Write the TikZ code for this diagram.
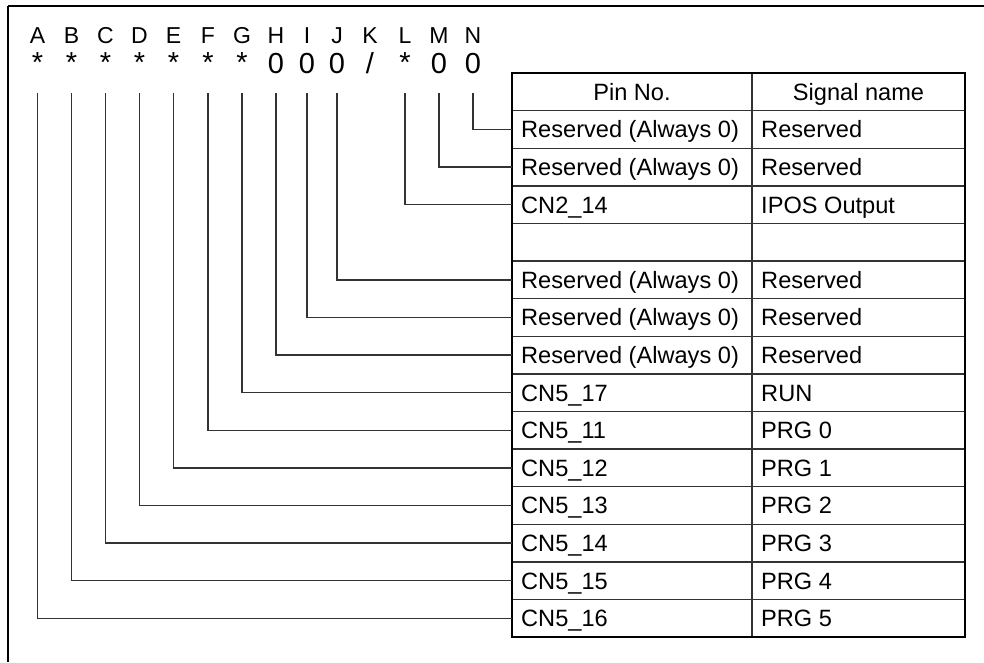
\documentclass[tikz,border=0pt]{standalone}
\usepackage{fontspec}
\setmainfont{Liberation Sans}
\begin{document}
\begin{tikzpicture}[x=1pt,y=-1pt,
  conn/.style={draw=black!80,line width=1.4pt},
  grid/.style={draw=black!80,line width=1.4pt},
  frameline/.style={draw=black,line width=2.6pt},
  letter/.style={inner sep=0pt,anchor=base,font=\fontsize{23}{25}\selectfont},
  digit/.style={inner sep=0pt,anchor=base,font=\fontsize{29}{31}\selectfont},
  cell/.style={inner sep=0pt,anchor=base west,font=\fontsize{23.6}{26}\selectfont},
  head/.style={inner sep=0pt,anchor=base,font=\fontsize{23.6}{26}\selectfont}]
\useasboundingbox (0,0) rectangle (984,662);
% outer frame (top and left edges)
\draw[frameline] (8,6) -- (984,6);
\draw[frameline] (8,6) -- (8,662);
% letters
\foreach \n/\x in {A/37.5,B/71.5,C/105.5,D/139.5,E/173.5,F/208,G/242,H/276,I/307,J/337,K/370,L/405,M/439,N/473}{
  \node[letter] (t\n) at (\x,43) {\n};
}
\foreach \n/\x in {A/37.5,B/71.5,C/105.5,D/139.5,E/173.5,F/208,G/242,L/405}{
  \node[digit] (s\n) at (\x,72) {*};
}
\foreach \n/\x in {H/276,I/307,J/337,M/439,N/473}{
  \node[digit] (s\n) at (\x,73.5) {0};
}
\node[digit] (sK) at (370,73.5) {/};
% top coordinates of connectors
\foreach \n/\x in {A/37.5,B/71.5,C/105.5,D/139.5,E/173.5,F/208,G/242,H/276,I/307,J/337,L/405,M/439,N/473}{
  \coordinate (c\n) at (\x,93);
}
% table
\def\tl{512}\def\tm{752}\def\tr{965}\def\tt{73}\def\rh{37.6}
\foreach \i in {1,...,14}{
  \draw[grid] (\tl,{\tt+\i*\rh}) -- (\tr,{\tt+\i*\rh});
  \coordinate (r\i) at (\tl,{\tt+\i*\rh+\rh/2});
}
\draw[grid] (\tm,\tt) -- (\tm,{\tt+15*\rh});
\draw[black,line width=2.8pt] (\tl,\tt) rectangle (\tr,{\tt+15*\rh});
\node[head] (hp) at ({(\tl+\tm)/2},{\tt+\rh/2+8.5}) {Pin No.};
\node[head] (hs) at ({(\tm+\tr)/2},{\tt+\rh/2+8.5}) {Signal name};
\foreach \i/\p/\s in {1/Reserved (Always 0)/Reserved,2/Reserved (Always 0)/Reserved,3/CN2\_14/IPOS Output,5/Reserved (Always 0)/Reserved,6/Reserved (Always 0)/Reserved,7/Reserved (Always 0)/Reserved,8/CN5\_17/RUN,9/CN5\_11/PRG 0,10/CN5\_12/PRG 1,11/CN5\_13/PRG 2,12/CN5\_14/PRG 3,13/CN5\_15/PRG 4,14/CN5\_16/PRG 5}{
  \node[cell] (p\i) at (521,{\tt+\i*\rh+\rh/2+8.5}) {\p};
  \node[cell] (q\i) at (761,{\tt+\i*\rh+\rh/2+8.5}) {\s};
}
% connectors
\foreach \n/\i in {N/1,M/2,L/3,J/5,I/6,H/7,G/8,F/9,E/10,D/11,C/12,B/13,A/14}{
  \draw[conn] (c\n) |- (r\i);
}
\end{tikzpicture}
\end{document}
